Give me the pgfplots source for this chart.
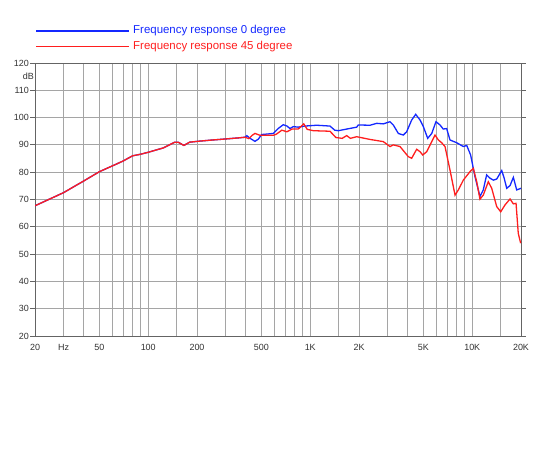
\documentclass[border=0pt]{standalone}
\usepackage{fontspec}
\setmainfont{Liberation Sans}
\usepackage{pgfplots}
\pgfplotsset{compat=1.18}
\definecolor{zeroblue}{RGB}{20,40,255}
\definecolor{fortyred}{RGB}{255,30,30}
\definecolor{gridgray}{RGB}{165,165,165}
\definecolor{framegray}{RGB}{100,100,100}
\definecolor{labelgray}{RGB}{50,50,50}

\begin{document}
\begin{tikzpicture}
\useasboundingbox (0,0) rectangle (550bp,450bp);
\begin{axis}[
    name=fr,
    at={(35bp,114bp)}, anchor=south west,
    scale only axis,
    width=486bp, height=273bp,
    xmode=log,
    xmin=20, xmax=20000,
    ymin=20, ymax=120,
    xtick={20,30,40,50,60,70,80,90,100,150,200,300,400,500,600,700,800,900,1000,1500,2000,3000,4000,5000,6000,7000,8000,9000,10000,15000,20000},
    xticklabels={20,Hz,,50,,,,,100,,200,,,500,,,,,1K,,2K,,,5K,,,,,10K,,20K},
    ytick={20,30,...,120},
    extra y ticks={115},
    extra y tick labels={dB},
    extra y tick style={grid=none, major tick length=0pt},
    grid=major,
    major grid style={gridgray, line width=0.8bp},
    axis line style={framegray, line width=0.9bp},
    xtick style={draw=none},
    ytick style={framegray, line width=0.8bp},
    tick align=outside,
    major tick length=5bp,
    /pgf/number format/assume math mode=true,
    tick label style={font=\fontsize{9}{10}\selectfont, text=labelgray},
    yticklabel style={inner sep=1bp},
    xticklabel style={inner sep=1bp, yshift=-2bp},
    log ticks with fixed point,
]
\addplot[zeroblue, line width=1.3bp] coordinates {
(20,67.7)(30,72.5)(40,76.8)(50,80.2)(60,82.3)(70,84.1)(80,86.0)(90,86.6)
(100,87.3)(124,88.9)(146,91.0)(153,91.0)(166,89.8)(180,91.0)(209,91.4)
(250,91.8)(290,92.1)(350,92.5)(396,92.8)(406,93.4)(425,92.4)(456,91.3)
(478,92.1)(501,93.8)(547,94.0)(591,94.2)(637,96.1)(682,97.4)(718,96.9)
(750,96.0)(786,96.7)(843,96.5)(926,96.9)(1096,97.2)(1324,96.9)(1416,95.4)
(1490,95.2)(1679,95.8)(1935,96.5)(1981,97.3)(2339,97.2)(2573,97.9)
(2825,97.7)(3107,98.5)(3256,97.3)(3498,94.2)(3752,93.6)(3937,94.8)
(4227,99.1)(4477,101.2)(4763,99.1)(4991,96.7)(5310,92.4)(5624,94.2)
(5972,98.5)(6325,97.3)(6624,95.8)(6952,96.0)(7289,91.8)(8015,90.8)
(8810,89.4)(9247,89.8)(9773,86.3)(10396,78.4)(11163,71.1)(11696,73.5)
(12270,79.0)(12880,77.8)(13500,77.1)(14160,77.5)(15210,80.6)(15710,78.0)
(16330,74.1)(17110,75.1)(17940,78.1)(18820,73.5)(20000,74.1)
};
\addplot[fortyred, line width=1.3bp] coordinates {
(20,67.7)(30,72.5)(40,76.8)(50,80.2)(60,82.3)(70,84.1)(80,86.0)(90,86.6)
(100,87.3)(124,88.9)(146,91.0)(153,91.0)(166,89.8)(180,91.0)(209,91.4)
(250,91.8)(290,92.1)(350,92.5)(396,92.8)(418,92.3)(440,93.6)(456,94.2)
(490,93.5)(591,93.5)(617,93.9)(668,95.4)(718,94.8)(772,95.8)(843,95.8)
(912,97.7)(958,95.7)(1046,95.2)(1324,95.0)(1440,92.7)(1575,92.4)
(1679,93.4)(1770,92.4)(1935,93.0)(2339,92.0)(2825,91.2)(3107,89.4)
(3256,90.0)(3582,89.4)(4029,85.7)(4227,85.1)(4540,88.4)(4763,87.5)
(4944,86.3)(5236,87.5)(5624,91.2)(5889,93.6)(6180,91.8)(6474,90.8)
(6792,89.4)(7289,80.8)(7832,71.6)(8206,73.5)(8810,77.1)(9683,80.2)
(10155,81.4)(10656,76.5)(11163,70.1)(11696,71.6)(12560,76.5)(13190,74.1)
(14160,67.4)(14990,65.5)(15930,68.0)(17110,70.2)(17940,68.4)(18640,68.6)
(19240,57.6)(19900,54.0)
};
\end{axis}
% legend above the plot area
\draw[zeroblue, line width=1.4bp] ([xshift=1bp, yshift=32bp]fr.north west) -- ++(93bp,0bp)
    node[anchor=west, inner sep=0pt, xshift=3.5bp, text=zeroblue, font=\fontsize{11.5}{12}\selectfont] {Frequency response 0 degree};
\draw[fortyred, line width=1.4bp] ([xshift=1bp, yshift=16.3bp]fr.north west) -- ++(93bp,0bp)
    node[anchor=west, inner sep=0pt, xshift=3.5bp, text=fortyred, font=\fontsize{11.5}{12}\selectfont] {Frequency response 45 degree};
\end{tikzpicture}
\end{document}
